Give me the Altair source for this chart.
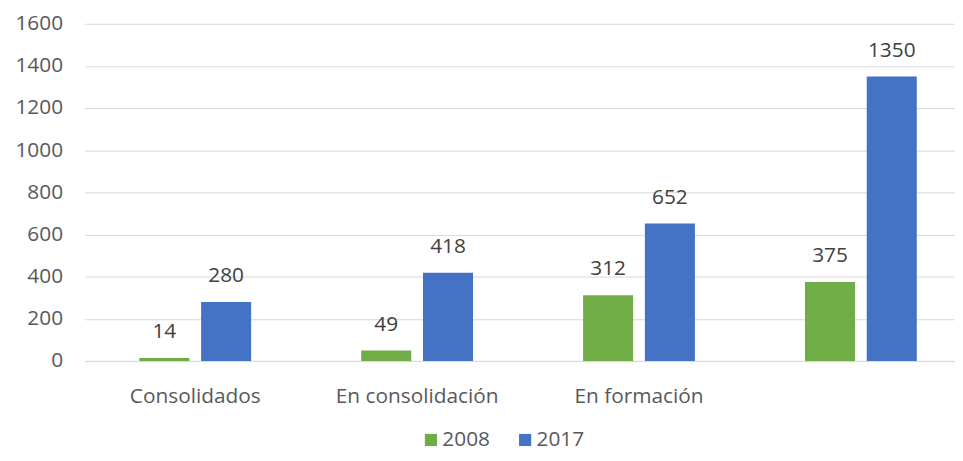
import altair as alt
import pandas as pd

categories = ["Consolidados", "En consolidación", "En formación", " "]
years = ["2008", "2017"]
values_2008 = [14, 49, 312, 375]
values_2017 = [280, 418, 652, 1350]

rows = []
for c, a, b in zip(categories, values_2008, values_2017):
    rows.append({"cat": c, "year": "2008", "value": a})
    rows.append({"cat": c, "year": "2017", "value": b})
df = pd.DataFrame(rows)

FONT = "Open Sans"
FS = 21
color_scale = alt.Scale(domain=years, range=["#70AD47", "#4472C4"])

base = alt.Chart(df).encode(
    x=alt.X("cat:N", sort=categories, title=None,
            scale=alt.Scale(paddingInner=0.496, paddingOuter=0.21, align=0.59),
            axis=alt.Axis(labelAngle=0, labelFontSize=FS, labelColor="#595959",
                          labelFont=FONT, ticks=False, domainColor="#D9D9D9",
                          labelPadding=25)),
    xOffset=alt.XOffset("year:N", scale=alt.Scale(paddingInner=0.19, paddingOuter=0)),
)

bars = base.mark_bar().encode(
    y=alt.Y("value:Q", title=None,
            scale=alt.Scale(domain=[0, 1600]),
            axis=alt.Axis(values=list(range(0, 1601, 200)), format="d",
                          labelFontSize=FS, labelColor="#595959", labelFont=FONT,
                          ticks=False, domain=False, gridColor="#D9D9D9",
                          labelPadding=22)),
    color=alt.Color("year:N", scale=color_scale, title=None,
                    legend=alt.Legend(orient="none", legendX=339, legendY=409,
                                      direction="horizontal", symbolType="square",
                                      symbolSize=150, symbolStrokeWidth=0,
                                      labelFontSize=FS, labelColor="#595959",
                                      labelFont=FONT, columnPadding=24,
                                      labelOffset=1)),
)

labels = base.mark_text(dy=-26, fontSize=FS, color="#404040", font=FONT).encode(
    y="value:Q",
    text="value:Q",
)

chart = (bars + labels).properties(
    width=878, height=340,
    background="white",
    autosize=alt.AutoSizeParams(type="none"),
    padding={"left": 77, "top": 14, "right": 0, "bottom": 91},
).configure_view(stroke=None)

chart.save("out.html", embed_options={"renderer": "svg", "actions": False})
